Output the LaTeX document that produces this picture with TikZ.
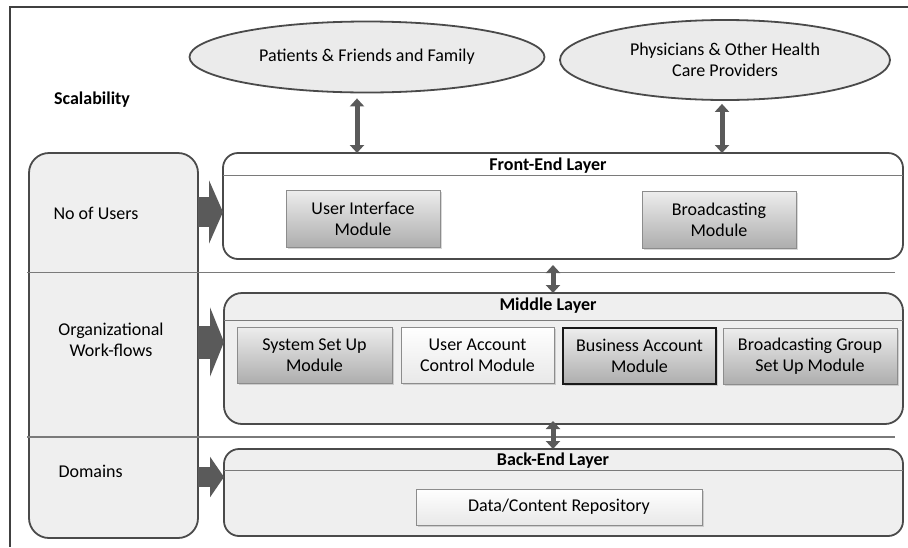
\documentclass[tikz,border=0pt]{standalone}
\usepackage{fontspec}
\setmainfont{Carlito}
\usetikzlibrary{arrows.meta,shapes.geometric,shadows}
\definecolor{edge}{HTML}{4A4A4A}
\definecolor{paper}{HTML}{EFEFEF}
\definecolor{rulegray}{HTML}{7A7A7A}
\definecolor{arrowgray}{HTML}{5A5A5A}
\definecolor{crowdfill}{HTML}{EBEBEB}

\begin{document}
\begin{tikzpicture}[x=1pt,y=-1pt,
  font=\fontsize{18}{21}\selectfont,
  crowd/.style={ellipse, draw=edge, line width=1.8pt, fill=crowdfill,
    align=center, inner sep=0},
  layer/.style={draw=edge, line width=1.8pt, rounded corners=15pt,
    anchor=north west, inner sep=0, outer sep=0},
  layertitle/.style={font=\fontsize{18}{21}\selectfont\bfseries},
  titlerule/.style={draw=rulegray, line width=1pt},
  separator/.style={draw=rulegray, line width=1.2pt},
  module/.style={draw=black!45, line width=0.8pt, top color=black!7,
    bottom color=black!32, align=center, inner sep=0, outer sep=0,
    anchor=north west,
    drop shadow={opacity=0.3, shadow xshift=1.5pt, shadow yshift=-1.5pt}},
  lightmodule/.style={module, top color=white, bottom color=black!9},
  dbl/.style={draw=arrowgray, line width=5pt,
    {Triangle[length=8pt,width=14pt]}-{Triangle[length=8pt,width=14pt]}},
  fat/.style 2 args={draw=arrowgray, line width=#1,
    -{Triangle[length=14pt,width=#2]}}
]
\useasboundingbox (0,0) rectangle (908,547);

% outer frame (top and left edges)
\draw[black!75, line width=1.2pt] (908,7) -- (10,7) -- (10,547);

% user groups
\node[crowd, minimum width=355, minimum height=71] (e1) at (367,57)
  {Patients \& Friends and Family};
\node[crowd, minimum width=330, minimum height=80] (e2) at (725,60)
  {Physicians \& Other Health\\Care Providers};

\node[font=\fontsize{18}{21}\selectfont\bfseries] (scal) at (92,100) {Scalability};

% scalability column
\node[draw=edge, line width=1.8pt, rounded corners=20pt, fill=paper,
  minimum width=169, minimum height=385, anchor=north west, inner sep=0,
  outer sep=0] (col) at (29,153) {};

% layers
\node[layer, fill=white, minimum width=680, minimum height=106] (fe) at (223,153) {};
\node[layer, fill=paper, rounded corners=18pt, minimum width=679, minimum height=131] (mid) at (224,293) {};
\node[layer, fill=paper, minimum width=679, minimum height=87] (be) at (224,449) {};

\node[layertitle] (fet) at (548,166) {Front-End Layer};
\node[layertitle] (midt) at (548,306) {Middle Layer};
\node[layertitle] (bet) at (553,461) {Back-End Layer};

\draw[titlerule] ([yshift=-22pt]fe.north west) -- ([yshift=-22pt]fe.north east);
\draw[titlerule] ([yshift=-27pt]mid.north west) -- ([yshift=-27pt]mid.north east);
\draw[titlerule] ([yshift=-21pt]be.north west) -- ([yshift=-21pt]be.north east);

% modules
\node[module, minimum width=154, minimum height=57] (ui) at (286,190)
  {User Interface\\Module};
\node[module, minimum width=154, minimum height=57] (bc) at (642,191)
  {Broadcasting\\Module};

\node[module, minimum width=155, minimum height=56] (sys) at (237,327)
  {System Set Up\\Module};
\node[lightmodule, minimum width=153, minimum height=56] (uac) at (401,327)
  {User Account\\Control Module};
\node[module, draw=black!90, line width=1.2pt, minimum width=153, minimum height=56] (bam) at (563,328)
  {Business Account\\Module};
\node[module, minimum width=174, minimum height=56] (bgs) at (723,328)
  {Broadcasting Group\\Set Up Module};

\node[lightmodule, minimum width=286, minimum height=36] (repo) at (416,489)
  {Data/Content Repository};

% column labels
\node[anchor=west] (users) at (50,213) {No of Users};
\node[align=center] (org) at (111,340) {Organizational\\Work-flows};
\node[anchor=west] (dom) at (55,471) {Domains};

% band separators
\coordinate (sepL) at (27,0);
\coordinate (sepR) at (895,0);
\draw[separator] (sepL |- 0,272.5) -- (sepR |- 0,272.5);
\draw[separator] (sepL |- 0,437) -- (sepR |- 0,437);

% two-way links
\coordinate (spine) at (553,0);
\draw[dbl] ([xshift=-10pt,yshift=-5pt]e1.south) -- ([xshift=-10pt]e1.south |- fe.north);
\draw[dbl] ([xshift=-3pt,yshift=-3pt]e2.south) -- ([xshift=-3pt]e2.south |- fe.north);
\draw[dbl] ([yshift=-6pt]spine |- fe.south) -- (spine |- mid.north);
\draw[dbl] ([yshift=3pt]spine |- mid.south) -- (spine |- be.north);

% scalability drivers
\coordinate (ya) at (0,212);
\coordinate (yb) at (0,342);
\coordinate (yc) at (0,477);
\draw[fat={30pt}{63pt}] (col.east |- ya) -- (fe.west |- ya);
\draw[fat={33pt}{69pt}] (col.east |- yb) -- (mid.west |- yb);
\draw[fat={20pt}{40pt}] (col.east |- yc) -- (be.west |- yc);
\end{tikzpicture}
\end{document}
